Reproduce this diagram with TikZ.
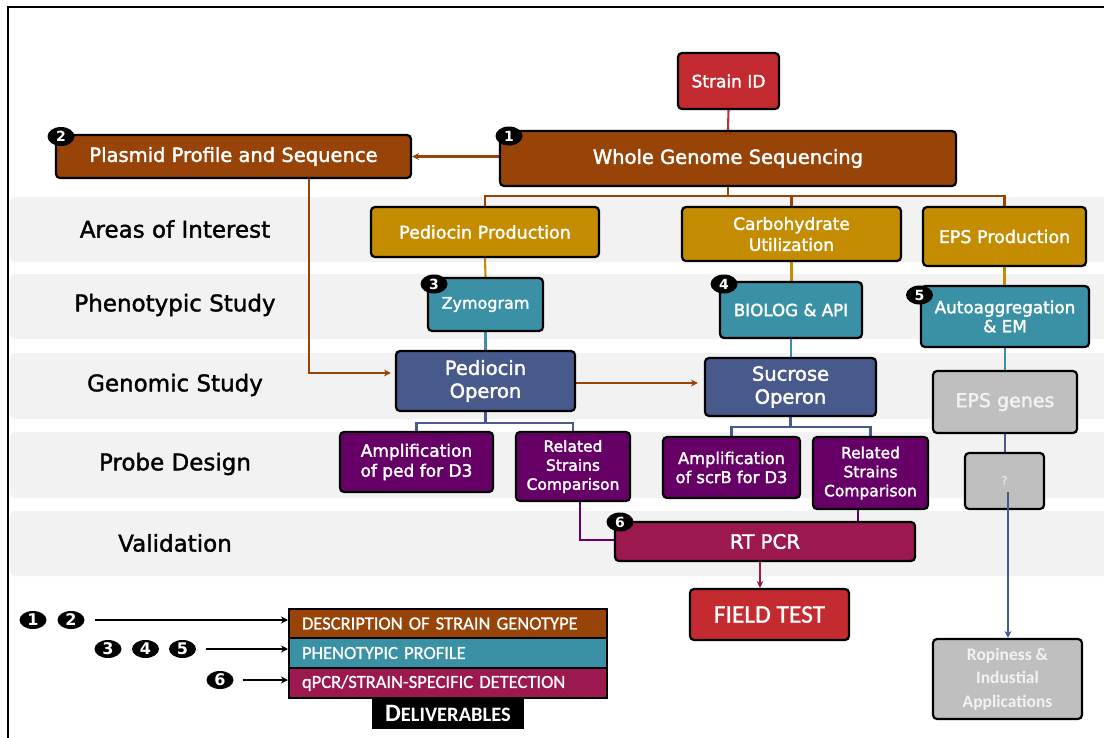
\documentclass[tikz,border=0pt]{standalone}
\usepackage{fontspec}
\setmainfont{DejaVu Sans}
\newfontfamily\boxfont{DejaVu Sans}[FakeBold=2]
\newfontfamily\labfont{DejaVu Sans}[FakeBold=1.5]
\newfontfamily\calfont{Carlito}
\newfontfamily\calmed{Carlito}[FakeBold=1]
\usetikzlibrary{arrows.meta,shapes.geometric}
\definecolor{cbrown}{HTML}{984408}
\definecolor{cred}{HTML}{C42B30}
\definecolor{cgold}{HTML}{C48C00}
\definecolor{cteal}{HTML}{3A91A6}
\definecolor{cslate}{HTML}{48598C}
\definecolor{cpurple}{HTML}{660066}
\definecolor{ccrimson}{HTML}{9B194E}
\definecolor{cgray}{HTML}{BFBFBF}
\definecolor{bandgray}{HTML}{F2F2F2}
\newcommand\fsz[2]{\fontsize{#1}{#2}\selectfont}
\pgfdeclarelayer{bandlayer}
\pgfdeclarelayer{linelayer}
\pgfsetlayers{bandlayer,linelayer,main}
\begin{document}
\begin{tikzpicture}[x=1pt,y=-1pt,
  box/.style={draw=black, line width=2.2pt, rounded corners=4pt, text=white, inner sep=0pt, align=center},
  rowlabel/.style={font=\labfont\fsz{23}{26}, text=black},
  badge/.style={ellipse, fill=black, text=white, minimum width=27pt, minimum height=19pt, inner sep=0pt, font=\bfseries\fsz{14}{14}},
  conn/.style={line width=2.1pt},
  arr/.style={-{Stealth[length=7pt,width=7pt]}},
  legrow/.style={draw=black, line width=2pt, minimum height=29.5pt, text width=292pt, inner xsep=13pt, inner ysep=0pt, align=left, font=\calmed\fsz{18.5}{20}, text=white},
  larr/.style={line width=1.6pt, -{Stealth[length=7pt,width=7pt]}}
]
\useasboundingbox (0,0) rectangle (1104,737);
\begin{pgfonlayer}{bandlayer}
\begin{scope}
\clip (0,0) rectangle (1104,737);
\foreach \t/\b in {197/262, 274/339, 353/419, 432/498, 511/576}
  \fill[bandgray, rounded corners=5pt] (10,\t) rectangle (1120,\b);
\draw[line width=2pt] (8,745) -- (8,7) -- (1110,7);
\end{scope}
\end{pgfonlayer}

% row labels
\node[rowlabel] (r1) at (175,229) {Areas of Interest};
\node[rowlabel] (r2) at (175,305) {Phenotypic Study};
\node[rowlabel] (r3) at (175,385) {Genomic Study};
\node[rowlabel] (r4) at (175,464) {Probe Design};
\node[rowlabel] (r5) at (175,543) {Validation};

% boxes
\node[box, fill=cred, minimum width=101pt, minimum height=56pt, font=\boxfont\fsz{17}{20}] (sid) at (728.5,81) {Strain ID};
\node[box, fill=cbrown, minimum width=456pt, minimum height=55pt, font=\boxfont\fsz{19.5}{22}] (wgs) at (728,158.5) {Whole Genome Sequencing};
\node[box, fill=cbrown, minimum width=355pt, minimum height=43pt, font=\boxfont\fsz{19.5}{22}] (pps) at (233.5,156.5) {Plasmid Profile and Sequence};
\node[box, fill=cgold, minimum width=228pt, minimum height=50pt, font=\boxfont\fsz{17.5}{20}] (pp) at (485,232) {Pediocin Production};
\node[box, fill=cgold, minimum width=219pt, minimum height=54pt, font=\boxfont\fsz{17}{21}] (cu) at (791.5,234) {Carbohydrate\\Utilization};
\node[box, fill=cgold, minimum width=163pt, minimum height=59pt, font=\boxfont\fsz{17.5}{20}] (epsp) at (1004.5,236.5) {EPS Production};
\node[box, fill=cteal, minimum width=115pt, minimum height=53pt, font=\boxfont\fsz{16}{19}] (zym) at (485.5,304.5) {Zymogram};
\node[box, fill=cteal, minimum width=142pt, minimum height=56pt, font=\boxfont\fsz{16.7}{19}] (bio) at (791,310) {BIOLOG \& API};
\node[box, fill=cteal, minimum width=168pt, minimum height=61pt, font=\boxfont\fsz{16.8}{19}] (auto) at (1005,316.5) {Autoaggregation\\\& EM};
\node[box, fill=cslate, minimum width=179pt, minimum height=60pt, font=\boxfont\fsz{19.5}{23}] (po) at (485.5,381) {Pediocin\\Operon};
\node[box, fill=cslate, minimum width=171pt, minimum height=58pt, font=\boxfont\fsz{19.5}{23}] (so) at (790.5,387) {Sucrose\\Operon};
\node[box, fill=cgray, text=bandgray, minimum width=144pt, minimum height=62pt, font=\boxfont\fsz{19}{22}] (epsg) at (1005,402) {EPS genes};
\node[box, fill=cpurple, minimum width=153pt, minimum height=60pt, font=\boxfont\fsz{17}{20}] (aped) at (416.5,462) {Amplification\\of ped for D3};
\node[box, fill=cpurple, minimum width=114pt, minimum height=69pt, font=\boxfont\fsz{15.5}{19}] (rs1) at (573,466.5) {Related\\Strains\\Comparison};
\node[box, fill=cpurple, minimum width=137pt, minimum height=61pt, font=\boxfont\fsz{16.3}{19}] (ascr) at (731.5,467.5) {Amplification\\of scrB for D3};
\node[box, fill=cpurple, minimum width=115pt, minimum height=72pt, font=\boxfont\fsz{15.5}{19}] (rs2) at (870.5,473) {Related\\Strains\\Comparison};
\node[box, fill=cgray, text=bandgray, minimum width=79pt, minimum height=56pt, font=\fsz{12}{14}] (q) at (1004.5,481) {?};
\node[box, fill=ccrimson, minimum width=300pt, minimum height=39pt, font=\boxfont\fsz{19.8}{22}] (rt) at (765,541.5) {RT PCR};
\node[box, fill=cred, minimum width=159pt, minimum height=51pt, font=\calmed\fsz{25.5}{28}] (ft) at (769.5,614.5) {FIELD TEST};
\node[box, fill=cgray, text=bandgray, minimum width=149pt, minimum height=80pt, font=\calfont\bfseries\fsz{17.5}{23.5}] (rop) at (1007.5,679) {Ropiness \&\\Industial\\Applications};

% badges
\node[badge] (b1) at (509,136) {1};
\node[badge] (b2) at (61,136.5) {2};
\node[badge] (b3) at (434,284) {3};
\node[badge] (b4) at (724,284) {4};
\node[badge] (b5) at (919.5,295) {5};
\node[badge] (b6) at (620,522) {6};

% connectors
\begin{pgfonlayer}{linelayer}
\draw[conn, cred] (sid.south) -- (wgs.north);
\draw[conn, cbrown] (wgs.south) -- (wgs.south |- 0,196) -| (pp.north);
\draw[conn, cbrown] (wgs.south |- 0,196) -| (cu.north);
\draw[conn, cbrown] (wgs.south |- 0,196) -| (epsp.north);
\draw[conn, cbrown, arr] (wgs.west |- pps.east) -- (pps.east);
\draw[conn, cbrown, arr, shorten >=4pt] ([xshift=75.5pt]pps.south) |- ([yshift=8pt]po.west);
\draw[conn, cgold] (pp.south) -- (zym.north);
\draw[conn, cgold] (cu.south) -- (cu.south |- bio.north);
\draw[conn, cgold] (epsp.south) -- (epsp.south |- auto.north);
\draw[conn, cteal] (zym.south) -- (zym.south |- po.north);
\draw[conn, cteal] (bio.south) -- (bio.south |- so.north);
\draw[conn, cteal] (auto.south) -- (auto.south |- epsg.north);
\draw[conn, cbrown, arr, shorten >=6pt] ([yshift=-2pt]po.east) -- ([yshift=-2pt]po.east -| so.west);
\draw[conn, cslate] (po.south) -- ++(0,11) -| (aped.north);
\draw[conn, cslate] (po.south) ++(0,11) -| (rs1.north);
\draw[conn, cslate] (so.south) -- ++(0,10) -| (ascr.north);
\draw[conn, cslate] (so.south) ++(0,10) -| (rs2.north);
\draw[conn, cslate] (epsg.south) -- (epsg.south |- q.north);
\draw[conn, cpurple] ([xshift=7pt]rs1.south) |- ([yshift=1.5pt]rt.west);
\draw[conn, cpurple] ([xshift=-12.5pt]rs2.south) -- ([xshift=-12.5pt]rs2.south |- rt.north);
\draw[conn, ccrimson, arr] ([xshift=-5pt]rt.south) -- ([xshift=-5pt]rt.south |- ft.north);
\end{pgfonlayer}
\coordinate (qs) at (1008,492);
\draw[conn, cslate, arr] (qs) -- (qs |- rop.north);

% legend
\node[legrow, fill=cbrown] (l1) at (448,623.5) {DESCRIPTION OF STRAIN GENOTYPE};
\node[legrow, fill=cteal] (l2) at (448,653) {PHENOTYPIC PROFILE};
\node[legrow, fill=ccrimson] (l3) at (448,683) {qPCR/STRAIN-SPECIFIC DETECTION};
\node[fill=black, minimum width=152pt, minimum height=31pt, inner sep=0pt, text=white] (del) at (448,713.5) {\calfont\bfseries{\fsz{25}{25}D}{\fsz{20.5}{25}ELIVERABLES}};

\node[badge, minimum height=18pt, font=\bfseries\fsz{16}{16}] (lc1) at (33,620) {1};
\node[badge, minimum height=18pt, font=\bfseries\fsz{16}{16}] (lc2) at (71,620) {2};
\node[badge, minimum height=18pt, font=\bfseries\fsz{16}{16}] (lc3) at (108,649) {3};
\node[badge, minimum height=18pt, font=\bfseries\fsz{16}{16}] (lc4) at (145.5,649) {4};
\node[badge, minimum height=18pt, font=\bfseries\fsz{16}{16}] (lc5) at (182.5,649) {5};
\node[badge, minimum height=18pt, font=\bfseries\fsz{16}{16}] (lc6) at (220,680) {6};
\draw[larr] ([xshift=10pt]lc2.east) -- (lc2.east -| l1.west);
\draw[larr] ([xshift=10pt]lc5.east) -- (lc5.east -| l2.west);
\draw[larr] ([xshift=9pt]lc6.east) -- (lc6.east -| l3.west);
\end{tikzpicture}
\end{document}
